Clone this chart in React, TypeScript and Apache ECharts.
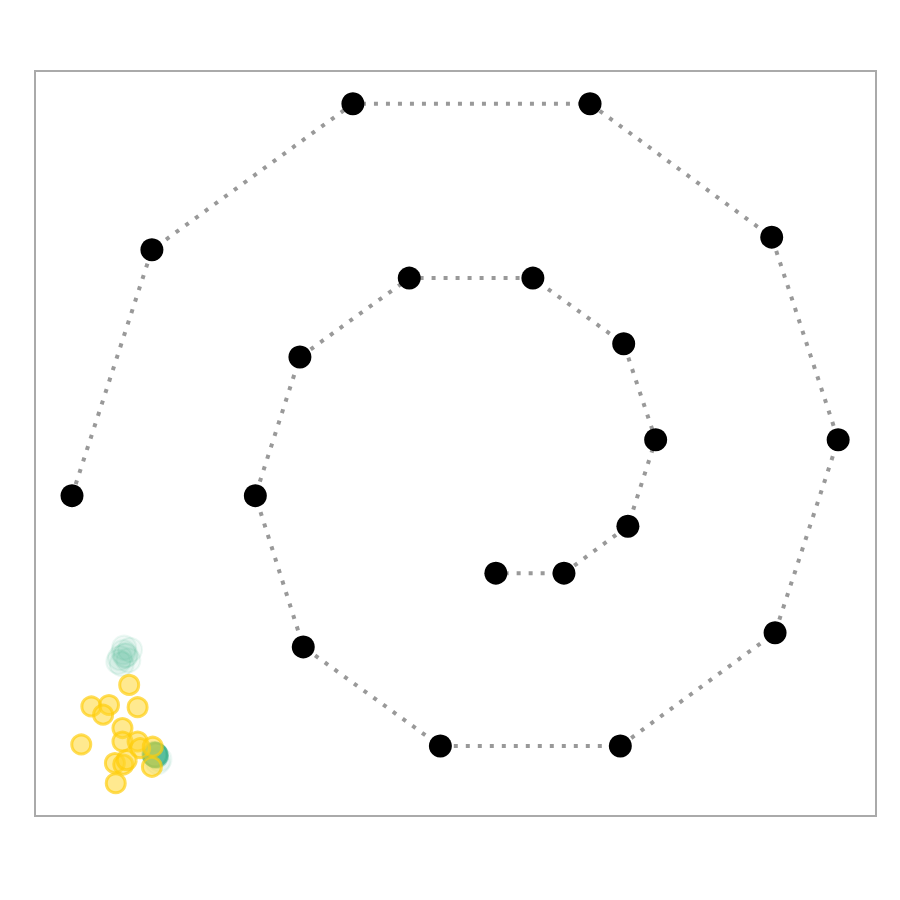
import React, { useEffect, useRef } from "react";
import * as echarts from "echarts";

// Spiral path (data units 0..100 on both axes)
const spiralX = [4.4, 13.9, 37.8, 66.0, 87.6, 95.5, 88.0, 69.6, 48.2, 31.9, 26.2, 31.5, 44.5, 59.2, 70.0, 73.8, 70.5, 62.9, 54.8];
const spiralY = [43.0, 76.0, 95.6, 95.6, 77.7, 50.5, 24.6, 9.4, 9.4, 22.7, 43.0, 61.6, 72.2, 72.2, 63.4, 50.5, 38.9, 32.6, 32.6];

// Yellow cluster
const yellowX = [11.2, 6.7, 8.8, 8.1, 12.2, 10.4, 5.5, 10.4, 12.2, 12.5, 14.0, 13.9, 9.5, 10.5, 10.9, 9.6];
const yellowY = [17.6, 14.7, 14.9, 13.6, 14.6, 11.8, 9.6, 10.0, 10.0, 9.1, 9.3, 6.6, 7.1, 6.9, 7.5, 4.4];

// Teal cluster
const tealX = [10.5, 10.1, 10.8, 9.9, 11.1, 10.6, 10.3, 11.3, 10.7, 14.3, 14.3, 14.2, 14.4, 14.6, 14.8];
const tealY = [22.0, 21.2, 21.6, 20.7, 20.9, 22.6, 20.4, 22.3, 21.5, 8.2, 8.2, 8.3, 8.1, 7.2, 7.6];
const tealAlpha = [0.1, 0.1, 0.1, 0.1, 0.1, 0.1, 0.1, 0.1, 0.1, 0.45, 0.45, 0.45, 0.45, 0.08, 0.08];

export default function App() {
  const ref = useRef<HTMLDivElement>(null);
  useEffect(() => {
    document.body.style.margin = "0";
    if (!ref.current) return;
    const chart = echarts.init(ref.current, null, { renderer: "svg" });
    const spiral = spiralX.map((x, i) => [x, spiralY[i]]);
    const yellow = yellowX.map((x, i) => [x, yellowY[i]]);
    const teal = tealX.map((x, i) => ({
      value: [x, tealY[i]],
      itemStyle: {
        color: `rgba(60,179,140,${tealAlpha[i]})`,
        borderColor: `rgba(60,179,140,${Math.min(1, tealAlpha[i] * 1.2)})`,
      },
    }));
    chart.setOption({
      animation: false,
      backgroundColor: "#fff",
      grid: {
        left: 35,
        right: 24,
        top: 71,
        bottom: 84,
        show: true,
        borderColor: "#aaaaaa",
        borderWidth: 2,
        backgroundColor: "transparent",
      },
      xAxis: { type: "value", min: 0, max: 100, show: false },
      yAxis: { type: "value", min: 0, max: 100, show: false },
      series: [
        {
          type: "scatter",
          data: teal,
          symbolSize: 24,
          itemStyle: { borderWidth: 2 },
          z: 1,
        },
        {
          type: "scatter",
          data: yellow,
          symbolSize: 19,
          itemStyle: {
            color: "rgba(255,212,40,0.65)",
            borderColor: "rgba(255,205,10,0.85)",
            borderWidth: 3,
          },
          z: 2,
        },
        {
          type: "line",
          data: spiral,
          symbol: "circle",
          symbolSize: 23,
          lineStyle: { color: "#999999", width: 4, type: [4, 8] },
          itemStyle: { color: "#000000", borderWidth: 0 },
          z: 3,
        },
      ],
    });
    return () => chart.dispose();
  }, []);
  return <div ref={ref} style={{ width: 900, height: 900 }} />;
}
